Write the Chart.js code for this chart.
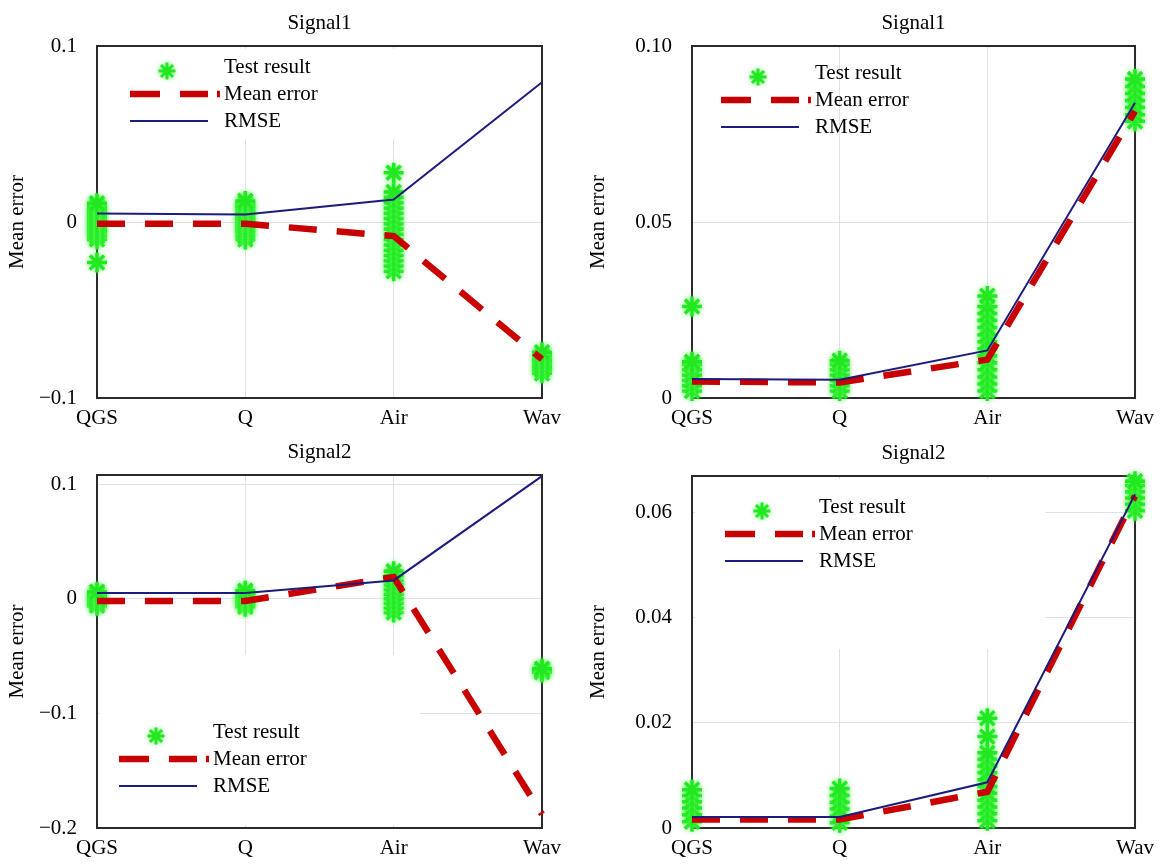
<!DOCTYPE html>
<html>
<head>
<meta charset="utf-8">
<script src="https://cdn.jsdelivr.net/npm/chart.js@4.4.0/dist/chart.umd.min.js"></script>
<style>
    body { margin: 0; background: #fff; width: 1162px; height: 864px; position: relative; overflow: hidden; }
    canvas { position: absolute; }
</style>
</head>
<body>
<canvas id="p1" width="581" height="432" style="left:0;top:0"></canvas>
<canvas id="p2" width="581" height="432" style="left:581px;top:0"></canvas>
<canvas id="p3" width="581" height="432" style="left:0;top:432px"></canvas>
<canvas id="p4" width="581" height="432" style="left:581px;top:432px"></canvas>
<script>
// categories on the x axis (all panels)
const categories = ['QGS', 'Q', 'Air', 'Wav'];

// top-left: Signal1
const p1Mean = [-0.001, -0.001, -0.008, -0.078];
const p1Rmse = [0.0048, 0.0043, 0.0128, 0.0794];
const p1Test = [
    [-0.023, -0.0099, -0.008, -0.006, -0.0045, -0.003, -0.0015, 0, 0.0015, 0.003, 0.0045, 0.006, 0.0075, 0.009, 0.0106],
    [-0.0099, -0.008, -0.006, -0.0045, -0.003, -0.0015, 0, 0.0015, 0.003, 0.0045, 0.006, 0.0075, 0.009, 0.0105, 0.012],
    [-0.028, -0.025, -0.022, -0.019, -0.016, -0.013, -0.010, -0.007, -0.004, -0.001, 0.002, 0.005, 0.008, 0.011, 0.014, 0.017, 0.028],
    [-0.086, -0.084, -0.082, -0.080, -0.078, -0.076, -0.074]
];
const p1Ticks = [0.1, 0, -0.1];
const p1TickLabels = ['0.1', '0', '\u22120.1'];

// top-right: Signal1
const p2Mean = [0.0047, 0.0044, 0.0109, 0.0815];
const p2Rmse = [0.0054, 0.0052, 0.0135, 0.0839];
const p2Test = [
    [0.002, 0.0035, 0.005, 0.0065, 0.008, 0.0095, 0.0103, 0.026],
    [0.002, 0.0035, 0.005, 0.0065, 0.008, 0.0095, 0.0106],
    [0.002, 0.004, 0.006, 0.008, 0.010, 0.012, 0.014, 0.016, 0.018, 0.020, 0.022, 0.024, 0.026, 0.029],
    [0.0786, 0.0805, 0.0825, 0.0845, 0.0865, 0.0885, 0.0906]
];
const p2Ticks = [0.10, 0.05, 0];
const p2TickLabels = ['0.10', '0.05', '0'];

// bottom-left: Signal2
const p3Mean = [-0.002, -0.002, 0.019, -0.188];
const p3Rmse = [0.005, 0.005, 0.016, 0.107];
const p3Test = [
    [-0.006, -0.004, -0.002, 0, 0.002, 0.004, 0.006],
    [-0.007, -0.005, -0.003, -0.001, 0.001, 0.003, 0.005, 0.007],
    [-0.012, -0.008, -0.004, 0, 0.004, 0.008, 0.012, 0.016, 0.020, 0.024],
    [-0.064, -0.0625, -0.061]
];
const p3Ticks = [0.1, 0, -0.1, -0.2];
const p3TickLabels = ['0.1', '0', '\u22120.1', '\u22120.2'];

// bottom-right: Signal2
const p4Mean = [0.0016, 0.0016, 0.0069, 0.0632];
const p4Rmse = [0.0021, 0.0021, 0.0087, 0.0635];
const p4Test = [
    [0.0012, 0.0025, 0.0038, 0.005, 0.0062, 0.0073],
    [0.001, 0.0023, 0.0036, 0.0049, 0.0062, 0.0075],
    [0.0014, 0.0027, 0.004, 0.0053, 0.0066, 0.0079, 0.0092, 0.0105, 0.0118, 0.0131, 0.0143, 0.0174, 0.0209],
    [0.0604, 0.0616, 0.0628, 0.064, 0.0652, 0.066]
];
const p4Ticks = [0.06, 0.04, 0.02, 0];
const p4TickLabels = ['0.06', '0.04', '0.02', '0'];

const FONT_FAMILY = '"Liberation Serif", "Times New Roman", serif';
const FONT = { family: FONT_FAMILY, size: 21 };
const TEST_COLOR = '#22e822';
const MEAN_COLOR = '#c80000';
const RMSE_COLOR = '#1c1c7c';
const GRID_COLOR = '#e2e2e2';

function drawStar(ctx, x, y, r) {
    ctx.beginPath();
    for (let k = 0; k < 4; k++) {
        const a = k * Math.PI / 4;
        ctx.moveTo(x - r * Math.cos(a), y - r * Math.sin(a));
        ctx.lineTo(x + r * Math.cos(a), y + r * Math.sin(a));
    }
    ctx.stroke();
}

// title above the plot box
const panelTitle = {
    id: 'panelTitle',
    afterDraw(chart, args, opts) {
        const { ctx, chartArea: a } = chart;
        ctx.save();
        ctx.font = '21px ' + FONT_FAMILY;
        ctx.fillStyle = '#000';
        ctx.textAlign = 'center';
        ctx.textBaseline = 'middle';
        ctx.fillText(opts.text, (a.left + a.right) / 2, a.top - 23);
        ctx.restore();
    }
};

// box round the plot, white legend background
const panelFrame = {
    id: 'panelFrame',
    beforeDatasetsDraw(chart) {
        const { ctx, chartArea: a } = chart;
        const box = chart.options.plugins.panelLegend.box;
        ctx.save();
        if (box) {
            ctx.fillStyle = '#fff';
            ctx.fillRect(a.left + box[0], a.top + box[1], box[2], box[3]);
        }
        ctx.strokeStyle = '#2a2a2a';
        ctx.lineWidth = 2;
        ctx.strokeRect(a.left, a.top, a.width, a.height);
        ctx.restore();
    },
    // soft green glow on the star markers
    beforeDatasetDraw(chart, args) {
        if (args.index !== 2) return;
        chart.ctx.save();
        chart.ctx.shadowColor = 'rgba(90, 255, 90, 0.85)';
        chart.ctx.shadowBlur = 5;
    },
    afterDatasetDraw(chart, args) {
        if (args.index !== 2) return;
        chart.ctx.restore();
    }
};

// legend inside the plot box
const panelLegend = {
    id: 'panelLegend',
    afterDatasetsDraw(chart, args, opts) {
        const { ctx, chartArea: a } = chart;
        const x0 = a.left + opts.x;
        const y0 = a.top + opts.y;
        const step = 27;
        const ds = chart.data.datasets;
        ctx.save();

        // Test result
        ctx.strokeStyle = ds[2].borderColor;
        ctx.lineWidth = 3;
        ctx.shadowColor = 'rgba(90, 255, 90, 0.85)';
        ctx.shadowBlur = 4;
        drawStar(ctx, x0 + 37, y0 + 4, 8.5);
        ctx.shadowBlur = 0;

        // Mean error
        ctx.strokeStyle = ds[1].borderColor;
        ctx.lineWidth = 6.5;
        ctx.setLineDash([30, 20, 28, 9, 3, 60]);
        ctx.beginPath();
        ctx.moveTo(x0, y0 + step);
        ctx.lineTo(x0 + 90, y0 + step);
        ctx.stroke();
        ctx.setLineDash([]);

        // RMSE
        ctx.strokeStyle = ds[0].borderColor;
        ctx.lineWidth = 2;
        ctx.beginPath();
        ctx.moveTo(x0, y0 + 2 * step);
        ctx.lineTo(x0 + 78, y0 + 2 * step);
        ctx.stroke();

        ctx.font = '21px ' + FONT_FAMILY;
        ctx.fillStyle = '#000';
        ctx.textAlign = 'left';
        ctx.textBaseline = 'middle';
        [ds[2], ds[1], ds[0]].forEach((d, i) => {
            ctx.fillText(d.label, x0 + 94, y0 + i * step);
        });
        ctx.restore();
    }
};

function buildPanel(id, cfg) {
    const testPoints = [];
    cfg.test.forEach((vals, i) => {
        vals.forEach((v) => testPoints.push({ x: categories[i], y: v }));
    });

    return new Chart(document.getElementById(id), {
        type: 'line',
        data: {
            labels: categories,
            datasets: [{
                label: 'RMSE',
                data: cfg.rmse,
                borderColor: RMSE_COLOR,
                borderWidth: 2,
                pointRadius: 0,
                order: 0
            }, {
                label: 'Mean error',
                data: cfg.mean,
                borderColor: MEAN_COLOR,
                borderWidth: 6.5,
                borderDash: [28, 20],
                pointRadius: 0,
                order: 1
            }, {
                label: 'Test result',
                data: testPoints,
                showLine: false,
                borderColor: TEST_COLOR,
                pointBorderColor: TEST_COLOR,
                pointBackgroundColor: TEST_COLOR,
                pointStyle: 'star',
                pointRadius: 10,
                pointBorderWidth: 3.5,
                clip: false,
                order: 2
            }]
        },
        options: {
            responsive: false,
            animation: false,
            events: [],
            layout: { autoPadding: false, padding: cfg.padding },
            plugins: {
                legend: { display: false },
                tooltip: { enabled: false },
                panelTitle: { text: cfg.title },
                panelLegend: cfg.legend
            },
            scales: {
                x: {
                    type: 'category',
                    offset: false,
                    border: { display: false },
                    grid: { color: GRID_COLOR, drawTicks: false },
                    ticks: { color: '#000', font: FONT, padding: 8, maxRotation: 0, autoSkip: false },
                    afterFit: (s) => { s.height = cfg.xHeight; }
                },
                y: {
                    min: cfg.yMin,
                    max: cfg.yMax,
                    border: { display: false },
                    grid: { color: GRID_COLOR, drawTicks: false },
                    ticks: {
                        color: '#000',
                        font: FONT,
                        padding: 20,
                        callback: (v, i) => cfg.tickLabels[i]
                    },
                    afterBuildTicks: (s) => { s.ticks = cfg.ticks.map((v) => ({ value: v })); },
                    afterFit: (s) => { s.width = cfg.yWidth; },
                    title: { display: true, text: 'Mean error', color: '#000', font: FONT, padding: 0 }
                }
            }
        },
        plugins: [panelFrame, panelLegend, panelTitle]
    });
}

buildPanel('p1', {
    title: 'Signal1', mean: p1Mean, rmse: p1Rmse, test: p1Test,
    ticks: p1Ticks, tickLabels: p1TickLabels, yMin: -0.1, yMax: 0.1,
    padding: { left: 5, top: 46, right: 39, bottom: 0 }, yWidth: 92, xHeight: 34,
    legend: { x: 33, y: 21, box: [3, 3, 320, 90] }
});

buildPanel('p2', {
    title: 'Signal1', mean: p2Mean, rmse: p2Rmse, test: p2Test,
    ticks: p2Ticks, tickLabels: p2TickLabels, yMin: 0, yMax: 0.1,
    padding: { left: 5, top: 46, right: 25, bottom: 0 }, yWidth: 106, xHeight: 34,
    legend: { x: 29, y: 27, box: null }
});

buildPanel('p3', {
    title: 'Signal2', mean: p3Mean, rmse: p3Rmse, test: p3Test,
    ticks: p3Ticks, tickLabels: p3TickLabels, yMin: -0.2, yMax: 0.108,
    padding: { left: 5, top: 43, right: 39, bottom: 0 }, yWidth: 92, xHeight: 36,
    legend: { x: 22, y: 257, box: [3, 180, 320, 170] }
});

buildPanel('p4', {
    title: 'Signal2', mean: p4Mean, rmse: p4Rmse, test: p4Test,
    ticks: p4Ticks, tickLabels: p4TickLabels, yMin: 0, yMax: 0.067,
    padding: { left: 5, top: 44, right: 25, bottom: 0 }, yWidth: 106, xHeight: 36,
    legend: { x: 33, y: 31, box: [3, 3, 350, 170] }
});
</script>
</body>
</html>
